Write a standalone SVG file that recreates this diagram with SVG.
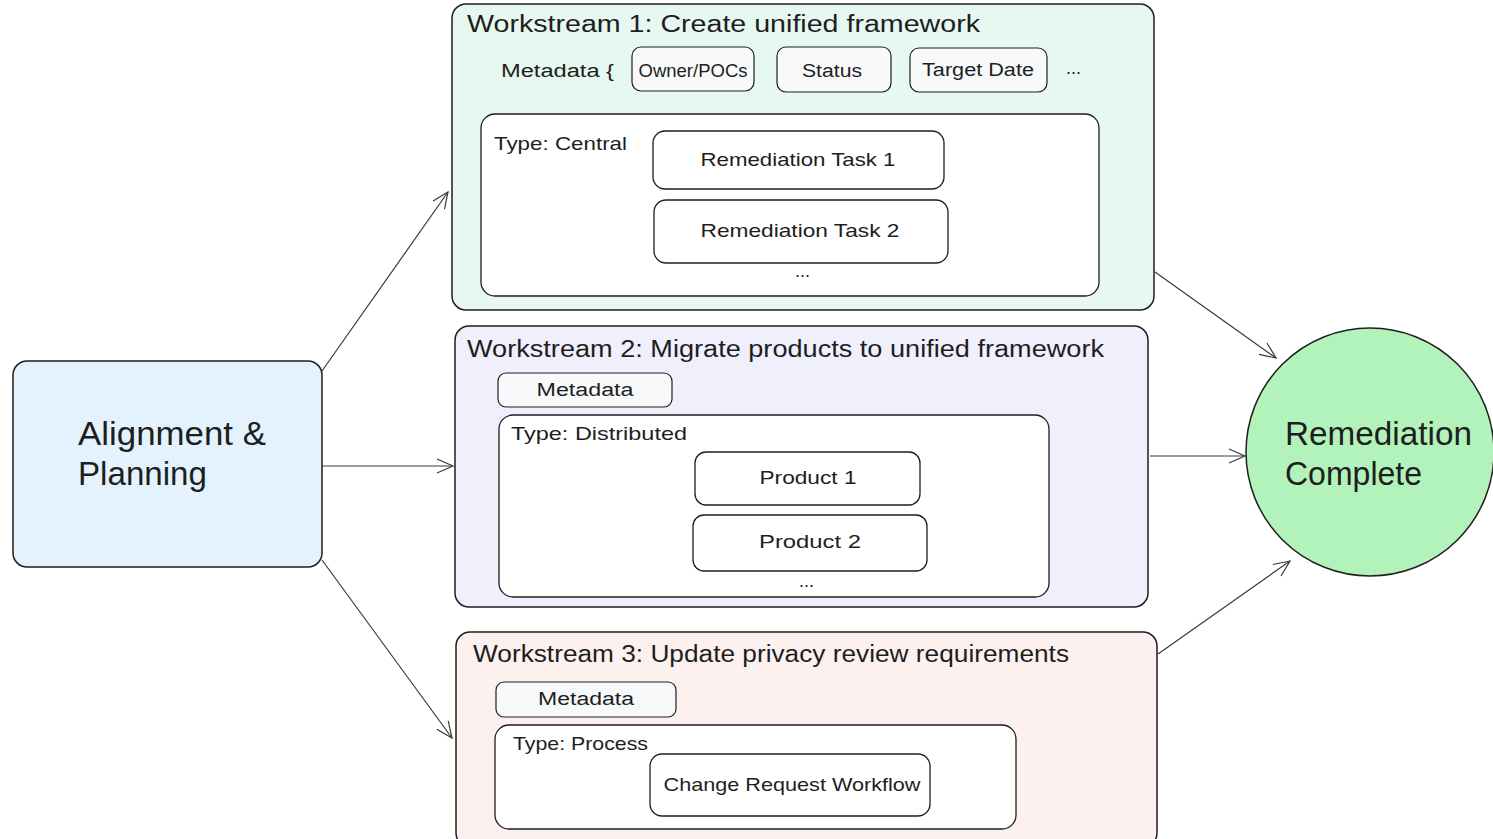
<svg xmlns="http://www.w3.org/2000/svg" width="1493" height="839" viewBox="0 0 1493 839">
<defs>
<style>
.box{stroke:#1e1e1e;stroke-width:1.5}
.inner{fill:#ffffff;stroke:#1e1e1e;stroke-width:1.3}
.meta{fill:#f8f9fa;stroke:#1e1e1e;stroke-width:1.2}
.t{font-family:"Liberation Sans","Noto Sans",sans-serif;fill:#1e1e1e}
.title{font-size:23px}
.s{font-size:18px}
.m{font-size:19px}
.big{font-size:33px}
.mid{text-anchor:middle}
.conn{fill:none;stroke:#3a3a3a;stroke-width:1.2}
</style>
<marker id="arr" viewBox="0 0 20 20" refX="18" refY="10" markerWidth="20" markerHeight="20" markerUnits="userSpaceOnUse" orient="auto">
<path d="M2,3 L18,10 L2,17" fill="none" stroke="#3a3a3a" stroke-width="1.2"/>
</marker>
</defs>
<rect width="1493" height="839" fill="#ffffff"/>

<g id="connectors">
<line class="conn" x1="322" y1="371" x2="448" y2="192" marker-end="url(#arr)"/>
<line class="conn" x1="322" y1="466" x2="453" y2="466" marker-end="url(#arr)"/>
<line class="conn" x1="322" y1="560" x2="452" y2="738" marker-end="url(#arr)"/>
<line class="conn" x1="1155" y1="272" x2="1276" y2="358" marker-end="url(#arr)"/>
<line class="conn" x1="1150" y1="456" x2="1245" y2="456" marker-end="url(#arr)"/>
<line class="conn" x1="1158" y1="654" x2="1290" y2="561" marker-end="url(#arr)"/>
</g>

<g id="alignment">
<rect class="box" x="13" y="361" width="309" height="206" rx="14" fill="#e3f2fd"/>
<text class="t big" x="78" y="445" textLength="188" lengthAdjust="spacingAndGlyphs">Alignment &amp;</text>
<text class="t big" x="78" y="485" textLength="129" lengthAdjust="spacingAndGlyphs">Planning</text>
</g>

<g id="ws1">
<rect class="box" x="452" y="4" width="702" height="306" rx="14" fill="#e6f8f0"/>
<text class="t title" x="467" y="32" textLength="513" lengthAdjust="spacingAndGlyphs">Workstream 1: Create unified framework</text>
<text class="t s" x="501" y="77" textLength="113" lengthAdjust="spacingAndGlyphs">Metadata {</text>
<g id="ws1-owner"><rect class="meta" x="632" y="47" width="122" height="44" rx="9"/>
<text class="t s mid" x="693" y="77" textLength="109" lengthAdjust="spacingAndGlyphs">Owner/POCs</text></g>
<g id="ws1-status"><rect class="meta" x="777" y="47" width="114" height="45" rx="9"/>
<text class="t s mid" x="832" y="77" textLength="60" lengthAdjust="spacingAndGlyphs">Status</text></g>
<g id="ws1-date"><rect class="meta" x="910" y="48" width="137" height="44" rx="9"/>
<text class="t s mid" x="978" y="76" textLength="112" lengthAdjust="spacingAndGlyphs">Target Date</text></g>
<text class="t s" x="1066" y="74">...</text>
<g id="ws1-central"><rect class="inner" x="481" y="114" width="618" height="182" rx="14"/>
<text class="t m" x="494" y="150" textLength="133" lengthAdjust="spacingAndGlyphs">Type: Central</text></g>
<g id="ws1-task1"><rect class="inner" x="653" y="131" width="291" height="58" rx="12"/>
<text class="t m mid" x="798" y="166" textLength="195" lengthAdjust="spacingAndGlyphs">Remediation Task 1</text></g>
<g id="ws1-task2"><rect class="inner" x="654" y="200" width="294" height="63" rx="12"/>
<text class="t m mid" x="800" y="237" textLength="199" lengthAdjust="spacingAndGlyphs">Remediation Task 2</text></g>
<text class="t s" x="795" y="277">...</text>
</g>

<g id="ws2">
<rect class="box" x="455" y="326" width="693" height="281" rx="14" fill="#f0effc"/>
<text class="t title" x="467" y="357" textLength="637" lengthAdjust="spacingAndGlyphs">Workstream 2: Migrate products to unified framework</text>
<g id="ws2-meta"><rect class="meta" x="498" y="373" width="174" height="34" rx="8"/>
<text class="t s mid" x="585" y="396" textLength="97" lengthAdjust="spacingAndGlyphs">Metadata</text></g>
<g id="ws2-dist"><rect class="inner" x="499" y="415" width="550" height="182" rx="14"/>
<text class="t m" x="511" y="440" textLength="176" lengthAdjust="spacingAndGlyphs">Type: Distributed</text></g>
<g id="ws2-p1"><rect class="inner" x="695" y="452" width="225" height="53" rx="11"/>
<text class="t m mid" x="808" y="484" textLength="97" lengthAdjust="spacingAndGlyphs">Product 1</text></g>
<g id="ws2-p2"><rect class="inner" x="693" y="515" width="234" height="56" rx="11"/>
<text class="t m mid" x="810" y="548" textLength="102" lengthAdjust="spacingAndGlyphs">Product 2</text></g>
<text class="t s" x="799" y="587">...</text>
</g>

<g id="ws3">
<rect class="box" x="456" y="632" width="701" height="215" rx="14" fill="#fdf1f0"/>
<text class="t title" x="473" y="662" textLength="596" lengthAdjust="spacingAndGlyphs">Workstream 3: Update privacy review requirements</text>
<g id="ws3-meta"><rect class="meta" x="496" y="682" width="180" height="35" rx="8" fill="#f1f4f8"/>
<text class="t s mid" x="586" y="705" textLength="96" lengthAdjust="spacingAndGlyphs">Metadata</text></g>
<g id="ws3-process"><rect class="inner" x="495" y="725" width="521" height="104" rx="14"/>
<text class="t m" x="513" y="750" textLength="135" lengthAdjust="spacingAndGlyphs">Type: Process</text></g>
<g id="ws3-cr"><rect class="inner" x="650" y="754" width="280" height="62" rx="12"/>
<text class="t m mid" x="792" y="791" textLength="257" lengthAdjust="spacingAndGlyphs">Change Request Workflow</text></g>
</g>

<g id="complete">
<circle class="box" cx="1370" cy="452" r="124" fill="#b2f2bb"/>
<text class="t big" x="1285" y="445" textLength="187" lengthAdjust="spacingAndGlyphs">Remediation</text>
<text class="t big" x="1285" y="485" textLength="137" lengthAdjust="spacingAndGlyphs">Complete</text>
</g>
</svg>
